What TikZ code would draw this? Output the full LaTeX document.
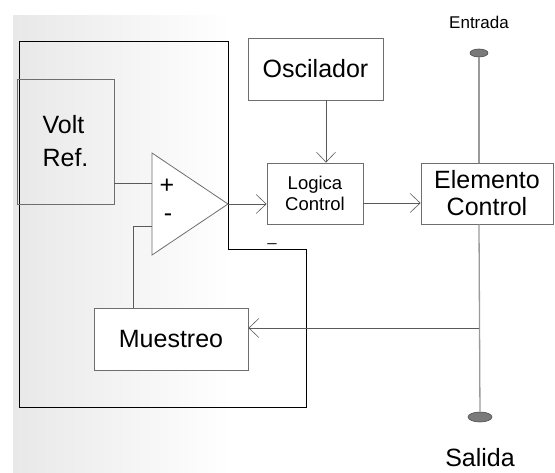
\documentclass[tikz,border=0pt]{standalone}
\usepackage{fontspec}
\setmainfont{Liberation Sans}
\usepackage{tikz}
\usetikzlibrary{arrows.meta,calc,positioning,shapes.geometric}
\definecolor{wire}{HTML}{5A5A5A}
\definecolor{rail}{HTML}{9A9A9A}
\definecolor{edge}{HTML}{6E6E6E}
\definecolor{port}{HTML}{7A7A7A}

\begin{document}
\begin{tikzpicture}[x=1pt,y=-1pt,>={Straight Barb[length=10pt,width=19pt,line width=0.6pt]},
    blk/.style={draw=edge,line width=0.8pt,inner sep=0pt,align=center},
    big/.style={font=\fontsize{25}{27}\selectfont},
    small/.style={font=\fontsize{18.5}{21}\selectfont},
    port/.style={ellipse,draw=black!70,fill=port,line width=0.6pt,inner sep=0pt},
    wire/.style={draw=wire,line width=0.8pt}]
      \useasboundingbox (0,0) rectangle (555,472);
      \shade[left color=black!9,right color=white] (13,15) rectangle (230,472);
      % outer frame
      \draw[black,line width=1pt] (19,41) -- (228,41) -- (228,249) -- (306,249) -- (306,407) -- (19,407) -- cycle;
      \node[blk,font=\fontsize{25}{33}\selectfont,align=left,minimum width=97pt,minimum height=125pt] (vref) at (65.5,141.5) {Volt\\Ref.};
      \node[blk,big,fill=white,minimum width=135pt,minimum height=62pt] (osc) at (315.5,69) {Oscilador};
      \node[blk,small,fill=white,minimum width=96pt,minimum height=61pt] (logic) at (315,193.5) {Logica\\Control};
      \node[blk,big,fill=white,minimum width=132pt,minimum height=61pt] (elem) at (487,193.5) {Elemento\\Control};
      \node[blk,big,fill=white,minimum width=154pt,minimum height=62pt] (muest) at (171,339) {Muestreo};
      \node[port,minimum width=18pt,minimum height=8pt] (entrada) at (479,53) {};
      \node[port,minimum width=24pt,minimum height=10pt] (salida) at (480,417) {};
      \node[font=\fontsize{17}{19}\selectfont] (entradatxt) at (479,22) {Entrada};
      \node[big,anchor=base] (salidatxt) at (480,466) {Salida};
      % amplifier
      \draw[edge,fill=white,line width=0.8pt] (152,153) -- (228,204) -- (152,255) -- cycle;
      \coordinate (opinp) at (152,183);
      \coordinate (opinm) at (152,226);
      \coordinate (opout) at (228,204);
      \node[big] (plus) at (167,186) {+};
      \node[big] (minus) at (168,218) {-};
      \node[font=\fontsize{16}{18}\selectfont,anchor=base] (under) at (272,241) {\_};
      \draw[wire] (vref.east |- opinp) -- (opinp);
      \draw[wire] (opinm) -| ([xshift=-38pt]muest.north);
      \draw[wire,->] (opout) -- (opout -| logic.west);
      \draw[wire,->] ([xshift=10.5pt]osc.south) -- ([xshift=10.5pt]osc.south |- logic.north);
      \draw[wire,->] ([yshift=-9.5pt]logic.east) -- ([yshift=-9.5pt]logic.east -| elem.west);
      \draw[rail,line width=1.3pt] (entrada) -- (entrada |- elem.north);
      \draw[rail,line width=1.3pt] (entrada |- elem.south) -- (salida);
      \coordinate (tap) at (479,328);
      \draw[wire,->] (tap) -- (tap -| muest.east);
    \end{tikzpicture}
\end{document}
